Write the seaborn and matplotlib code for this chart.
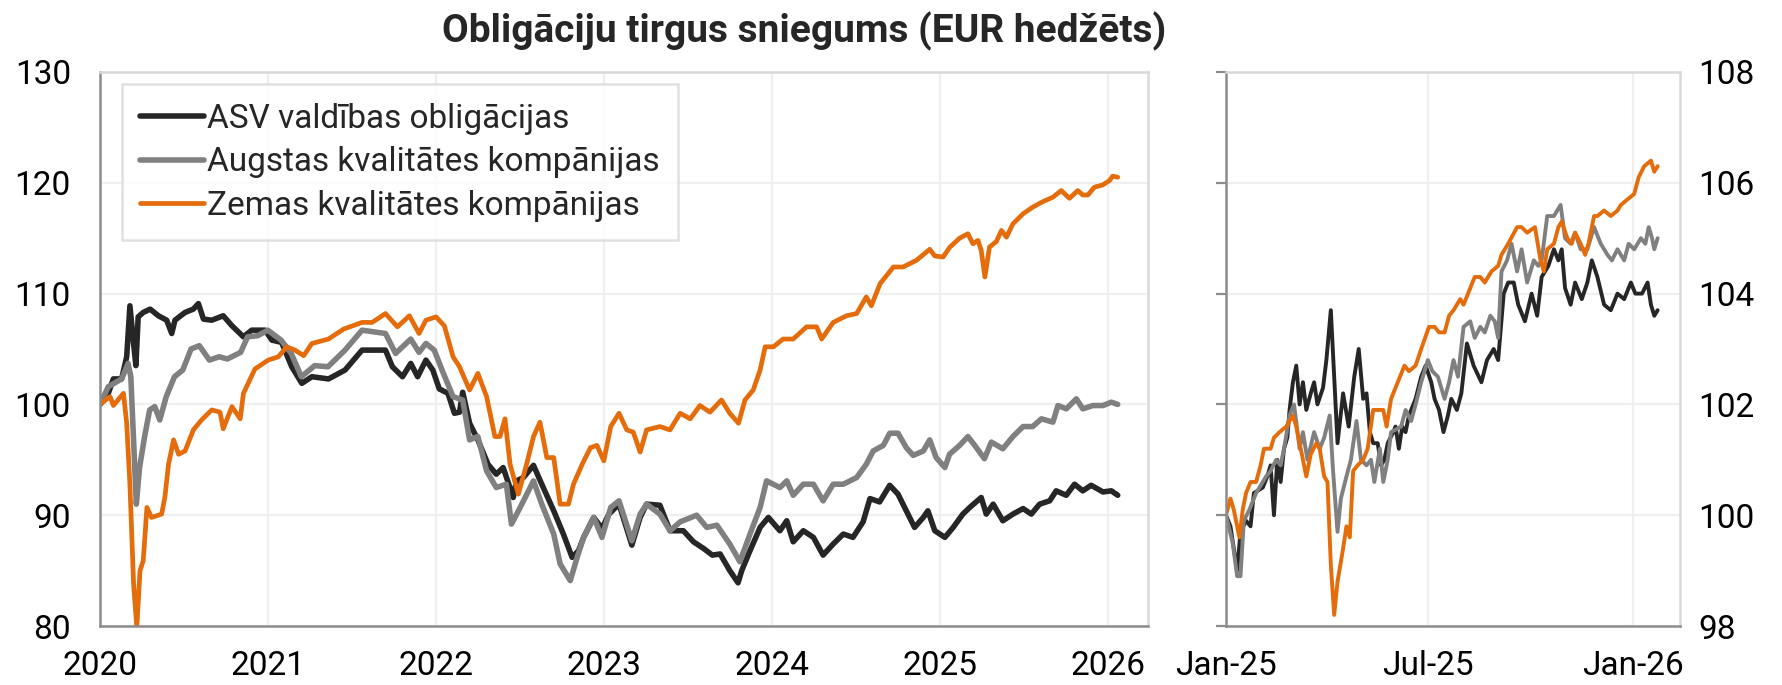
import matplotlib
matplotlib.use("Agg")
import matplotlib.pyplot as plt
import matplotlib.dates as mdates
import pandas as pd
import seaborn as sns

title = "Obligāciju tirgus sniegums (EUR hedžēts)"
series_names = ["ASV valdības obligācijas", "Augstas kvalitātes kompānijas", "Zemas kvalitātes kompānijas"]
series_colors = ["#262626", "#808080", "#E46C0A"]

# ---------------- Left panel: 2020 = 100 ----------------
gov_dates = ["2020-01-01", "2020-01-19", "2020-01-30", "2020-02-17", "2020-02-28", "2020-03-06", "2020-03-14",
             "2020-03-19", "2020-03-24", "2020-04-04", "2020-04-19", "2020-05-07", "2020-05-25", "2020-06-05",
             "2020-06-12", "2020-07-04", "2020-07-22", "2020-08-02", "2020-08-13", "2020-08-31", "2020-09-25",
             "2020-10-14", "2020-11-08", "2020-11-26", "2020-12-25", "2021-01-09", "2021-01-30", "2021-02-21",
             "2021-03-15", "2021-04-06", "2021-05-12", "2021-06-17", "2021-07-24", "2021-08-23", "2021-09-13",
             "2021-09-28", "2021-10-20", "2021-11-07", "2021-11-22", "2021-12-10", "2021-12-25", "2022-01-08",
             "2022-01-27", "2022-02-10", "2022-02-21", "2022-02-28", "2022-03-15", "2022-04-02", "2022-04-24",
             "2022-05-12", "2022-05-27", "2022-06-18", "2022-06-25", "2022-07-10", "2022-08-01", "2022-08-19",
             "2022-09-14", "2022-10-05", "2022-10-24", "2022-11-07", "2022-11-18", "2022-12-10", "2022-12-28",
             "2023-01-12", "2023-02-03", "2023-03-03", "2023-03-21", "2023-04-04", "2023-05-03", "2023-05-25",
             "2023-06-23", "2023-07-15", "2023-08-06", "2023-08-25", "2023-09-11", "2023-10-02", "2023-10-20",
             "2023-10-28", "2023-11-15", "2023-12-07", "2023-12-25", "2024-01-19", "2024-02-03", "2024-02-17",
             "2024-03-10", "2024-04-01", "2024-04-22", "2024-05-14", "2024-06-05", "2024-06-26", "2024-07-18",
             "2024-08-02", "2024-08-23", "2024-09-14", "2024-10-02", "2024-10-20", "2024-11-07", "2024-11-26",
             "2024-12-06", "2024-12-21", "2025-01-12", "2025-01-30", "2025-02-20", "2025-03-07", "2025-04-01",
             "2025-04-12", "2025-04-27", "2025-05-18", "2025-06-09", "2025-07-01", "2025-07-19", "2025-08-06",
             "2025-08-28", "2025-09-11", "2025-10-03", "2025-10-21", "2025-11-08", "2025-11-26", "2025-12-22",
             "2026-01-09", "2026-01-23"]
gov_vals = [100.0, 101.0, 102.3, 102.3, 104.3, 108.9, 105.5,
            103.5, 107.9, 108.3, 108.6, 108.0, 107.6, 106.4,
            107.6, 108.3, 108.6, 109.1, 107.7, 107.6, 108.0,
            107.1, 106.1, 106.7, 106.7, 105.8, 105.6, 103.4,
            101.9, 102.5, 102.3, 103.1, 104.9, 104.9, 104.9,
            103.4, 102.5, 103.7, 102.5, 104.0, 103.1, 101.4,
            101.0, 99.2, 99.3, 101.1, 98.3, 96.8, 94.6,
            93.7, 94.3, 91.6, 93.1, 93.4, 94.5, 92.8,
            90.4, 88.3, 86.2, 86.8, 88.0, 89.8, 88.8,
            90.1, 91.0, 87.3, 89.8, 91.0, 90.9, 88.6,
            88.6, 87.6, 87.0, 86.4, 86.5, 85.0, 83.9,
            85.0, 86.8, 88.9, 89.8, 88.6, 89.5, 87.6,
            88.6, 88.0, 86.4, 87.4, 88.3, 88.0, 89.4,
            91.5, 91.2, 92.7, 91.9, 90.4, 88.9, 89.8,
            90.4, 88.6, 88.0, 88.9, 90.1, 90.7, 91.6,
            90.1, 91.0, 89.5, 90.1, 90.6, 90.1, 91.0,
            91.3, 92.2, 91.8, 92.8, 92.2, 92.7, 92.1,
            92.2, 91.8]

ig_dates = ["2020-01-01", "2020-01-19", "2020-02-17", "2020-03-02", "2020-03-08", "2020-03-15", "2020-03-20",
            "2020-03-27", "2020-04-07", "2020-04-18", "2020-04-29", "2020-05-10", "2020-05-24", "2020-06-11",
            "2020-06-29", "2020-07-17", "2020-08-04", "2020-08-26", "2020-09-16", "2020-10-04", "2020-11-02",
            "2020-11-17", "2020-12-09", "2020-12-31", "2021-01-29", "2021-02-20", "2021-03-14", "2021-04-12",
            "2021-05-11", "2021-06-17", "2021-07-24", "2021-09-13", "2021-10-05", "2021-11-07", "2021-11-25",
            "2021-12-10", "2021-12-28", "2022-01-16", "2022-02-07", "2022-02-28", "2022-03-15", "2022-04-02",
            "2022-04-21", "2022-05-12", "2022-06-03", "2022-06-14", "2022-07-03", "2022-08-01", "2022-08-19",
            "2022-09-14", "2022-09-28", "2022-10-20", "2022-11-04", "2022-11-18", "2022-12-10", "2022-12-28",
            "2023-01-16", "2023-02-03", "2023-03-03", "2023-03-21", "2023-04-04", "2023-05-03", "2023-05-25",
            "2023-06-16", "2023-07-22", "2023-08-13", "2023-09-04", "2023-10-02", "2023-10-24", "2023-11-15",
            "2023-12-07", "2023-12-21", "2024-01-19", "2024-02-03", "2024-02-17", "2024-03-10", "2024-04-01",
            "2024-04-22", "2024-05-14", "2024-06-05", "2024-07-04", "2024-07-25", "2024-08-09", "2024-08-31",
            "2024-09-14", "2024-10-02", "2024-10-20", "2024-11-04", "2024-11-26", "2024-12-10", "2024-12-24",
            "2025-01-12", "2025-01-22", "2025-02-13", "2025-03-03", "2025-03-18", "2025-04-08", "2025-04-23",
            "2025-05-18", "2025-06-09", "2025-07-01", "2025-07-22", "2025-08-10", "2025-09-04", "2025-09-15",
            "2025-10-03", "2025-10-25", "2025-11-08", "2025-11-30", "2025-12-22", "2026-01-09", "2026-01-23"]
ig_vals = [100.0, 101.6, 102.3, 103.7, 102.5, 95.8, 91.0,
           94.3, 97.1, 99.5, 99.8, 98.6, 100.7, 102.5,
           103.1, 105.0, 105.3, 104.0, 104.3, 104.1, 104.7,
           106.1, 106.2, 106.7, 105.8, 104.6, 102.5, 103.5,
           103.4, 104.9, 106.7, 106.4, 104.6, 105.9, 104.7,
           105.5, 104.9, 102.9, 100.7, 100.4, 96.8, 97.1,
           94.0, 92.5, 92.8, 89.2, 90.7, 93.1, 91.0,
           88.3, 85.6, 84.1, 86.2, 88.0, 89.8, 88.0,
           90.7, 91.3, 87.7, 90.1, 91.0, 90.1, 88.6,
           89.4, 90.0, 88.9, 89.1, 87.4, 85.8, 88.3,
           90.7, 93.1, 92.5, 93.1, 91.8, 92.8, 92.8,
           91.3, 92.8, 92.8, 93.4, 94.6, 95.8, 96.3,
           97.4, 97.4, 96.1, 95.4, 95.8, 96.8, 95.2,
           94.3, 95.5, 96.3, 97.1, 96.3, 95.1, 96.6,
           96.0, 97.1, 98.0, 98.0, 98.7, 98.4, 99.9,
           99.6, 100.5, 99.6, 99.9, 99.9, 100.2, 100.0]

hy_dates = ["2020-01-01", "2020-01-23", "2020-01-30", "2020-02-21", "2020-02-28", "2020-03-06", "2020-03-14",
            "2020-03-21", "2020-03-28", "2020-04-04", "2020-04-12", "2020-04-22", "2020-05-14", "2020-05-21",
            "2020-05-29", "2020-06-09", "2020-06-20", "2020-07-04", "2020-07-22", "2020-08-09", "2020-08-31",
            "2020-09-18", "2020-09-25", "2020-10-14", "2020-11-01", "2020-11-08", "2020-12-03", "2021-01-01",
            "2021-01-23", "2021-02-10", "2021-02-28", "2021-03-19", "2021-04-06", "2021-05-12", "2021-06-14",
            "2021-07-24", "2021-08-15", "2021-09-13", "2021-10-09", "2021-11-04", "2021-11-25", "2021-12-10",
            "2022-01-01", "2022-01-19", "2022-02-07", "2022-02-21", "2022-03-15", "2022-04-02", "2022-04-21",
            "2022-05-09", "2022-05-20", "2022-05-31", "2022-06-11", "2022-06-29", "2022-07-17", "2022-08-01",
            "2022-08-15", "2022-08-30", "2022-09-14", "2022-09-28", "2022-10-16", "2022-10-27", "2022-11-15",
            "2022-12-03", "2022-12-17", "2023-01-01", "2023-01-16", "2023-02-03", "2023-02-20", "2023-03-06",
            "2023-03-21", "2023-04-04", "2023-05-03", "2023-05-25", "2023-06-16", "2023-07-08", "2023-07-29",
            "2023-08-20", "2023-09-14", "2023-10-02", "2023-10-21", "2023-11-04", "2023-11-22", "2023-12-07",
            "2023-12-18", "2024-01-05", "2024-01-26", "2024-02-17", "2024-03-17", "2024-04-08", "2024-04-19",
            "2024-05-14", "2024-06-12", "2024-07-04", "2024-07-25", "2024-08-05", "2024-08-24", "2024-09-22",
            "2024-10-13", "2024-11-11", "2024-12-10", "2024-12-21", "2025-01-08", "2025-01-23", "2025-02-13",
            "2025-03-03", "2025-03-14", "2025-03-25", "2025-04-01", "2025-04-09", "2025-04-19", "2025-05-04",
            "2025-05-15", "2025-05-26", "2025-06-09", "2025-07-01", "2025-07-22", "2025-08-13", "2025-09-04",
            "2025-09-22", "2025-10-10", "2025-10-28", "2025-11-08", "2025-11-19", "2025-12-03", "2025-12-21",
            "2026-01-05", "2026-01-12", "2026-01-23"]
hy_vals = [100.0, 100.7, 99.9, 101.0, 98.3, 92.8, 83.8,
           79.9, 85.0, 85.9, 90.7, 89.8, 90.1, 91.6,
           94.6, 96.8, 95.5, 95.8, 97.7, 98.6, 99.5,
           99.3, 97.8, 99.8, 98.7, 101.0, 103.2, 104.0,
           104.3, 105.2, 104.9, 104.4, 105.5, 105.9, 106.8,
           107.4, 107.4, 108.2, 107.0, 108.0, 106.4, 107.6,
           107.9, 107.1, 104.3, 103.4, 101.3, 102.8, 100.7,
           97.1, 97.1, 98.7, 94.6, 91.9, 94.6, 97.1,
           98.4, 95.2, 95.2, 91.0, 91.0, 92.8, 94.6,
           96.1, 96.3, 94.9, 98.0, 99.2, 97.7, 97.5,
           95.7, 97.7, 98.0, 97.7, 99.2, 98.7, 99.9,
           99.3, 100.4, 99.2, 98.3, 100.4, 101.3, 103.1,
           105.2, 105.2, 105.9, 105.9, 107.0, 107.0, 105.9,
           107.4, 108.0, 108.2, 109.7, 108.9, 110.9, 112.4,
           112.4, 113.0, 114.0, 113.4, 113.3, 114.2, 115.0,
           115.4, 114.5, 114.8, 113.9, 111.5, 114.2, 114.7,
           115.7, 115.1, 116.3, 117.2, 117.8, 118.3, 118.7,
           119.3, 118.6, 119.3, 118.9, 118.9, 119.6, 119.8,
           120.2, 120.6, 120.5]

# ---------------- Right panel: Jan 2025 = 100 ----------------
gov25_dates = ["2025-01-01", "2025-01-05", "2025-01-08", "2025-01-11", "2025-01-14", "2025-01-19", "2025-01-23",
               "2025-01-26", "2025-02-03", "2025-02-07", "2025-02-10", "2025-02-13", "2025-02-16", "2025-02-19",
               "2025-02-22", "2025-02-25", "2025-02-27", "2025-03-02", "2025-03-05", "2025-03-08", "2025-03-11",
               "2025-03-14", "2025-03-18", "2025-03-21", "2025-03-24", "2025-03-29", "2025-04-01", "2025-04-05",
               "2025-04-08", "2025-04-11", "2025-04-16", "2025-04-21", "2025-04-26", "2025-04-30", "2025-05-04",
               "2025-05-07", "2025-05-10", "2025-05-13", "2025-05-17", "2025-05-20", "2025-05-23", "2025-05-26",
               "2025-05-31", "2025-06-02", "2025-06-05", "2025-06-08", "2025-06-11", "2025-06-14", "2025-06-20",
               "2025-06-25", "2025-06-29", "2025-07-04", "2025-07-07", "2025-07-11", "2025-07-15", "2025-07-19",
               "2025-07-22", "2025-07-27", "2025-07-31", "2025-08-05", "2025-08-11", "2025-08-18", "2025-08-23",
               "2025-08-29", "2025-09-02", "2025-09-07", "2025-09-11", "2025-09-16", "2025-09-20", "2025-09-26",
               "2025-10-02", "2025-10-07", "2025-10-11", "2025-10-17", "2025-10-22", "2025-10-26", "2025-10-29",
               "2025-11-01", "2025-11-06", "2025-11-10", "2025-11-16", "2025-11-21", "2025-11-25", "2025-11-30",
               "2025-12-06", "2025-12-12", "2025-12-18", "2025-12-24", "2025-12-30", "2026-01-03", "2026-01-09",
               "2026-01-14", "2026-01-17", "2026-01-20", "2026-01-23"]
gov25_vals = [100.0, 99.8, 99.4, 99.0, 99.7, 99.9, 99.8,
              100.4, 100.5, 100.7, 100.9, 100.0, 101.0, 100.6,
              101.2, 101.4, 101.9, 102.4, 102.7, 102.0, 102.4,
              101.9, 102.2, 102.4, 102.0, 102.3, 102.8, 103.7,
              102.5, 101.3, 102.2, 101.6, 102.5, 103.0, 102.1,
              102.2, 101.5, 101.3, 101.3, 100.9, 101.0, 101.3,
              101.5, 101.6, 101.2, 101.6, 101.5, 101.8, 102.1,
              102.5, 102.7, 102.4, 102.1, 101.9, 101.5, 101.8,
              102.1, 101.9, 102.2, 103.1, 102.7, 102.4, 102.8,
              103.0, 102.8, 104.0, 104.2, 104.2, 103.8, 103.5,
              104.0, 103.6, 104.3, 104.5, 104.8, 104.6, 104.8,
              104.1, 103.8, 104.2, 103.9, 104.2, 104.6, 104.3,
              103.8, 103.7, 104.0, 103.9, 104.2, 104.0, 104.0,
              104.2, 103.8, 103.6, 103.7]

ig25_dates = ["2025-01-01", "2025-01-07", "2025-01-11", "2025-01-14", "2025-01-17", "2025-01-22", "2025-01-28",
              "2025-02-06", "2025-02-10", "2025-02-15", "2025-02-19", "2025-02-22", "2025-02-27", "2025-03-03",
              "2025-03-08", "2025-03-11", "2025-03-15", "2025-03-21", "2025-03-26", "2025-03-30", "2025-04-04",
              "2025-04-07", "2025-04-11", "2025-04-14", "2025-04-19", "2025-04-23", "2025-04-28", "2025-05-02",
              "2025-05-07", "2025-05-11", "2025-05-14", "2025-05-19", "2025-05-22", "2025-05-26", "2025-05-29",
              "2025-06-07", "2025-06-11", "2025-06-16", "2025-06-20", "2025-06-25", "2025-07-01", "2025-07-05",
              "2025-07-10", "2025-07-16", "2025-07-20", "2025-07-24", "2025-07-28", "2025-08-02", "2025-08-08",
              "2025-08-12", "2025-08-17", "2025-08-21", "2025-08-26", "2025-08-30", "2025-09-02", "2025-09-05",
              "2025-09-10", "2025-09-14", "2025-09-19", "2025-09-23", "2025-09-28", "2025-10-04", "2025-10-08",
              "2025-10-11", "2025-10-16", "2025-10-22", "2025-10-28", "2025-11-01", "2025-11-06", "2025-11-10",
              "2025-11-15", "2025-11-21", "2025-11-27", "2025-12-03", "2025-12-09", "2025-12-13", "2025-12-18",
              "2025-12-24", "2025-12-28", "2026-01-02", "2026-01-08", "2026-01-12", "2026-01-15", "2026-01-18",
              "2026-01-20", "2026-01-23"]
ig25_vals = [100.0, 99.5, 98.9, 98.9, 99.9, 100.1, 100.4,
             100.7, 100.8, 101.0, 100.9, 101.2, 101.8, 102.0,
             101.2, 101.5, 101.0, 101.5, 101.2, 101.4, 101.8,
             100.8, 99.7, 100.3, 100.7, 101.0, 101.7, 101.0,
             100.9, 101.0, 100.6, 101.2, 100.6, 101.0, 101.5,
             101.6, 101.9, 101.7, 102.0, 102.4, 102.8, 102.6,
             102.5, 102.1, 102.4, 102.8, 102.5, 103.4, 103.5,
             103.2, 103.4, 103.3, 103.6, 103.5, 103.2, 104.4,
             104.6, 104.9, 104.4, 104.8, 104.2, 104.6, 104.5,
             104.6, 105.4, 105.4, 105.6, 105.0, 104.9, 105.1,
             104.8, 104.8, 105.2, 104.9, 104.7, 104.6, 104.8,
             104.6, 104.9, 104.8, 105.0, 104.9, 105.2, 105.0,
             104.8, 105.0]

hy25_dates = ["2025-01-01", "2025-01-05", "2025-01-08", "2025-01-13", "2025-01-16", "2025-01-19", "2025-01-23",
              "2025-01-28", "2025-02-01", "2025-02-04", "2025-02-10", "2025-02-13", "2025-02-18", "2025-02-24",
              "2025-03-02", "2025-03-05", "2025-03-09", "2025-03-14", "2025-03-18", "2025-03-23", "2025-03-26",
              "2025-03-30", "2025-04-02", "2025-04-05", "2025-04-08", "2025-04-11", "2025-04-16", "2025-04-19",
              "2025-04-22", "2025-04-25", "2025-04-29", "2025-05-04", "2025-05-08", "2025-05-13", "2025-05-17",
              "2025-05-22", "2025-05-25", "2025-05-29", "2025-06-04", "2025-06-10", "2025-06-14", "2025-06-20",
              "2025-06-25", "2025-07-02", "2025-07-07", "2025-07-11", "2025-07-16", "2025-07-20", "2025-07-24",
              "2025-07-30", "2025-08-02", "2025-08-08", "2025-08-12", "2025-08-17", "2025-08-21", "2025-08-27",
              "2025-09-02", "2025-09-05", "2025-09-11", "2025-09-19", "2025-09-23", "2025-09-28", "2025-10-05",
              "2025-10-10", "2025-10-13", "2025-10-16", "2025-10-22", "2025-10-26", "2025-10-29", "2025-11-03",
              "2025-11-07", "2025-11-10", "2025-11-15", "2025-11-19", "2025-11-22", "2025-11-27", "2025-11-30",
              "2025-12-06", "2025-12-12", "2025-12-18", "2025-12-21", "2025-12-27", "2026-01-02", "2026-01-06",
              "2026-01-11", "2026-01-17", "2026-01-20", "2026-01-23"]
hy25_vals = [100.0, 100.3, 100.1, 99.6, 100.1, 100.4, 100.6,
             100.6, 100.9, 101.2, 101.2, 101.4, 101.5, 101.6,
             101.8, 101.6, 101.2, 100.7, 101.1, 101.3, 101.2,
             100.7, 100.6, 99.1, 98.2, 98.8, 99.4, 99.8,
             99.6, 100.8, 100.9, 101.0, 101.2, 101.9, 101.9,
             101.9, 101.6, 102.1, 102.4, 102.7, 102.6, 102.7,
             103.0, 103.4, 103.4, 103.3, 103.3, 103.6, 103.7,
             103.9, 103.8, 104.1, 104.3, 104.3, 104.2, 104.4,
             104.5, 104.7, 104.9, 105.2, 105.2, 105.1, 105.2,
             104.6, 104.4, 104.8, 104.9, 105.2, 105.3, 105.0,
             104.9, 105.1, 104.9, 104.7, 104.9, 105.4, 105.4,
             105.5, 105.4, 105.5, 105.6, 105.7, 105.8, 106.1,
             106.3, 106.4, 106.2, 106.3]

left_yticks = [80, 90, 100, 110, 120, 130]
right_yticks = [98, 100, 102, 104, 106, 108]
left_xticks = ["2020-01-01", "2021-01-01", "2022-01-01", "2023-01-01", "2024-01-01", "2025-01-01", "2026-01-01"]
right_xticks = ["2025-01-01", "2025-07-01", "2026-01-01"]


def long_frame(pairs):
    frames = []
    for name, d, v in pairs:
        frames.append(pd.DataFrame({"date": pd.to_datetime(d), "value": v, "series": name}))
    return pd.concat(frames, ignore_index=True)


left_df = long_frame([(series_names[0], gov_dates, gov_vals),
                      (series_names[1], ig_dates, ig_vals),
                      (series_names[2], hy_dates, hy_vals)])
right_df = long_frame([(series_names[0], gov25_dates, gov25_vals),
                       (series_names[1], ig25_dates, ig25_vals),
                       (series_names[2], hy25_dates, hy25_vals)])

sns.set_theme(style="white")
plt.rcParams["font.family"] = ["Roboto", "DejaVu Sans"]

fig = plt.figure(figsize=(17.83, 6.85), dpi=100)
axL = fig.add_axes([0.0561, 0.0861, 0.5878, 0.8088])
axR = fig.add_axes([0.6876, 0.0861, 0.2546, 0.8088])

left_lw = [4.0, 4.0, 3.4]
for name, col, lw in zip(series_names, series_colors, left_lw):
    sns.lineplot(data=left_df[left_df["series"] == name], x="date", y="value", color=col,
                 linewidth=lw, label=name, ax=axL, solid_joinstyle="round")
for name, col in zip(series_names, series_colors):
    sns.lineplot(data=right_df[right_df["series"] == name], x="date", y="value", color=col,
                 linewidth=2.8, ax=axR, legend=False, solid_joinstyle="round")

spine_dark = "#8c8c8c"
spine_light = "#d9d9d9"
grid_col = "#efefef"
fs = 24

for ax in (axL, axR):
    ax.set_xlabel("")
    ax.set_ylabel("")
    ax.grid(True, color=grid_col, linewidth=1.6)
    ax.set_axisbelow(True)
    for s in ("left", "bottom"):
        ax.spines[s].set_color(spine_dark)
        ax.spines[s].set_linewidth(1.8)
    for s in ("top", "right"):
        ax.spines[s].set_color(spine_light)
        ax.spines[s].set_linewidth(1.8)
    ax.tick_params(axis="both", which="major", direction="out", length=7, width=1.6,
                   color=spine_dark, labelsize=fs, labelcolor="black")
    ax.tick_params(axis="x", pad=10)

axL.set_ylim(80, 130)
axL.set_yticks(left_yticks)
axL.tick_params(axis="y", pad=14)
axL.set_xlim(pd.Timestamp("2020-01-01"), pd.Timestamp("2026-03-30"))
axL.set_xticks(pd.to_datetime(left_xticks))
axL.xaxis.set_major_formatter(mdates.DateFormatter("%Y"))

axR.set_ylim(98, 108)
axR.set_yticks(right_yticks)
axR.tick_params(axis="y", left=True, right=False, labelleft=False, labelright=True, pad=6)
axR.set_xlim(pd.Timestamp("2025-01-01"), pd.Timestamp("2026-02-12"))
axR.set_xticks(pd.to_datetime(right_xticks))
axR.xaxis.set_major_formatter(mdates.DateFormatter("%b-%y"))

leg = axL.legend(loc="upper left", bbox_to_anchor=(0.021, 0.978), borderaxespad=0,
                 frameon=True, fancybox=False, edgecolor=spine_light, fontsize=fs,
                 handlelength=1.9, handletextpad=0.1, labelspacing=0.35, borderpad=0.55)
leg.get_frame().set_linewidth(1.8)

fig.text(0.451, 0.955, title, ha="center", va="center", fontsize=28, fontweight="bold")

fig.savefig("out.png", dpi=100)
